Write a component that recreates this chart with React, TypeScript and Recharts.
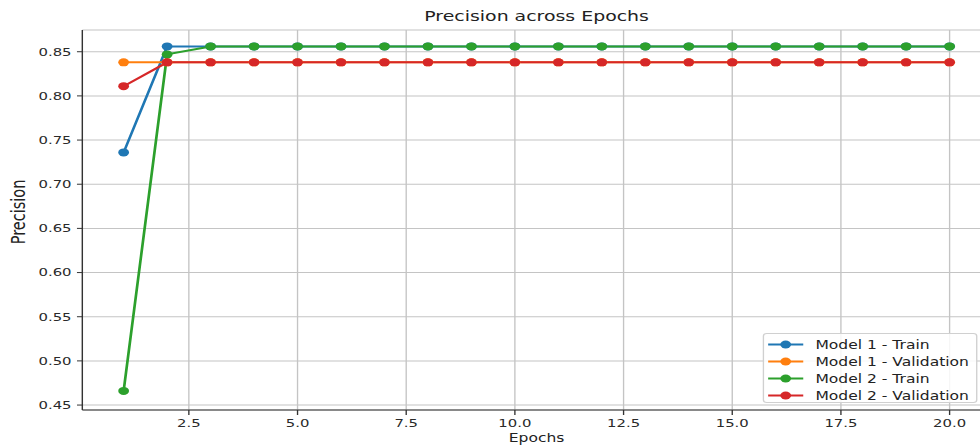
import { LineChart, Line, XAxis, YAxis, CartesianGrid, Legend } from 'recharts'

const epochs = [1, 2, 3, 4, 5, 6, 7, 8, 9, 10, 11, 12, 13, 14, 15, 16, 17, 18, 19, 20]

const model1Train = [0.736, 0.856, 0.856, 0.856, 0.856, 0.856, 0.856, 0.856, 0.856, 0.856, 0.856, 0.856, 0.856, 0.856, 0.856, 0.856, 0.856, 0.856, 0.856, 0.856]
const model1Val = [0.838, 0.838, 0.838, 0.838, 0.838, 0.838, 0.838, 0.838, 0.838, 0.838, 0.838, 0.838, 0.838, 0.838, 0.838, 0.838, 0.838, 0.838, 0.838, 0.838]
const model2Train = [0.466, 0.847, 0.856, 0.856, 0.856, 0.856, 0.856, 0.856, 0.856, 0.856, 0.856, 0.856, 0.856, 0.856, 0.856, 0.856, 0.856, 0.856, 0.856, 0.856]
const model2Val = [0.811, 0.838, 0.838, 0.838, 0.838, 0.838, 0.838, 0.838, 0.838, 0.838, 0.838, 0.838, 0.838, 0.838, 0.838, 0.838, 0.838, 0.838, 0.838, 0.838]

const xTicks = [2.5, 5, 7.5, 10, 12.5, 15, 17.5, 20]
const yTicks = [0.45, 0.5, 0.55, 0.6, 0.65, 0.7, 0.75, 0.8, 0.85]

const series = [
  { key: 'm1Train', name: 'Model 1 - Train', color: '#1f77b4' },
  { key: 'm1Val', name: 'Model 1 - Validation', color: '#ff7f0e' },
  { key: 'm2Train', name: 'Model 2 - Train', color: '#2ca02c' },
  { key: 'm2Val', name: 'Model 2 - Validation', color: '#d62728' },
]

const data = epochs.map((epoch, i) => ({
  epoch,
  m1Train: model1Train[i],
  m1Val: model1Val[i],
  m2Train: model2Train[i],
  m2Val: model2Val[i],
}))

// the reference image is stretched sideways, so draw narrow and scale on x
const STRETCH = 1.35
const W = 748
const H = 445
const FONT = '"DejaVu Sans", Verdana, sans-serif'

function renderLegend() {
  return (
    <div
      style={{
        width: 159,
        height: 70,
        border: '1px solid #d0d0d0',
        borderRadius: 3,
        background: 'rgba(255,255,255,0.85)',
        boxSizing: 'border-box',
        paddingTop: 2,
      }}
    >
      {series.map((s) => (
        <div key={s.key} style={{ display: 'flex', alignItems: 'center', height: 17 }}>
          <svg width={36} height={17} style={{ flex: 'none' }}>
            <line x1={3} y1={8.5} x2={29} y2={8.5} stroke={s.color} strokeWidth={2} />
            <circle cx={16} cy={8.5} r={4} fill={s.color} />
          </svg>
          <span style={{ fontFamily: FONT, fontSize: 11.5, color: '#222', marginLeft: 2, whiteSpace: 'nowrap' }}>
            {s.name}
          </span>
        </div>
      ))}
    </div>
  )
}

// y axis title, placed where the reference has it
function YTitle() {
  return (
    <text
      x={13.5}
      y={212}
      transform="rotate(-90, 13.5, 212)"
      textAnchor="middle"
      dominantBaseline="central"
      fontFamily={FONT}
      fontSize={14.5}
      fill="#222"
    >
      Precision
    </text>
  )
}

export default function App() {
  return (
    <div style={{ position: 'absolute', left: 0, top: 0, width: 980, height: 445, overflow: 'hidden', background: '#fff' }}>
      <div style={{ position: 'relative', width: W, height: H, transform: `scaleX(${STRETCH})`, transformOrigin: '0 0' }}>
        <div
          style={{
            position: 'absolute',
            top: 8,
            left: 61,
            width: 673,
            textAlign: 'center',
            fontFamily: FONT,
            fontSize: 14,
            color: '#222',
            zIndex: 2,
          }}
        >
          Precision across Epochs
        </div>
        <LineChart width={W} height={H} data={data} margin={{ top: 30, right: 14, left: 0, bottom: 0 }}>
          <CartesianGrid stroke="#c4c4c4" strokeWidth={1} />
          <XAxis
            dataKey="epoch"
            type="number"
            domain={[0.05, 20.95]}
            ticks={xTicks}
            allowDataOverflow
            height={35}
            tickSize={5}
            tickMargin={4}
            tickFormatter={(v: number) => v.toFixed(1)}
            tick={{ fontFamily: FONT, fontSize: 11, fill: '#2a2a2a' }}
            stroke="#333"
            label={{ value: 'Epochs', position: 'insideBottom', offset: 3, fontFamily: FONT, fontSize: 11.5, fill: '#222' }}
          />
          <XAxis xAxisId="top" orientation="top" type="number" domain={[0, 1]} height={0} tick={false} tickLine={false} stroke="#333" />
          <YAxis
            type="number"
            domain={[0.4444, 0.8746]}
            ticks={yTicks}
            allowDataOverflow
            width={61}
            tickSize={4}
            tickMargin={4}
            tickFormatter={(v: number) => v.toFixed(2)}
            tick={{ fontFamily: FONT, fontSize: 11, fill: '#2a2a2a' }}
            stroke="#333"
            label={{ value: 'Precision', content: () => <YTitle /> }}
          />
          <Legend
            layout="horizontal"
            verticalAlign="middle"
            align="center"
            content={renderLegend}
            wrapperStyle={{ left: 565, top: 333, width: 159, height: 72 }}
          />
          {series.map((s) => (
            <Line
              key={s.key}
              dataKey={s.key}
              name={s.name}
              stroke={s.color}
              strokeWidth={2}
              dot={{ r: 4, fill: s.color, stroke: s.color, strokeWidth: 0 }}
              isAnimationActive={false}
            />
          ))}
        </LineChart>
      </div>
    </div>
  )
}
